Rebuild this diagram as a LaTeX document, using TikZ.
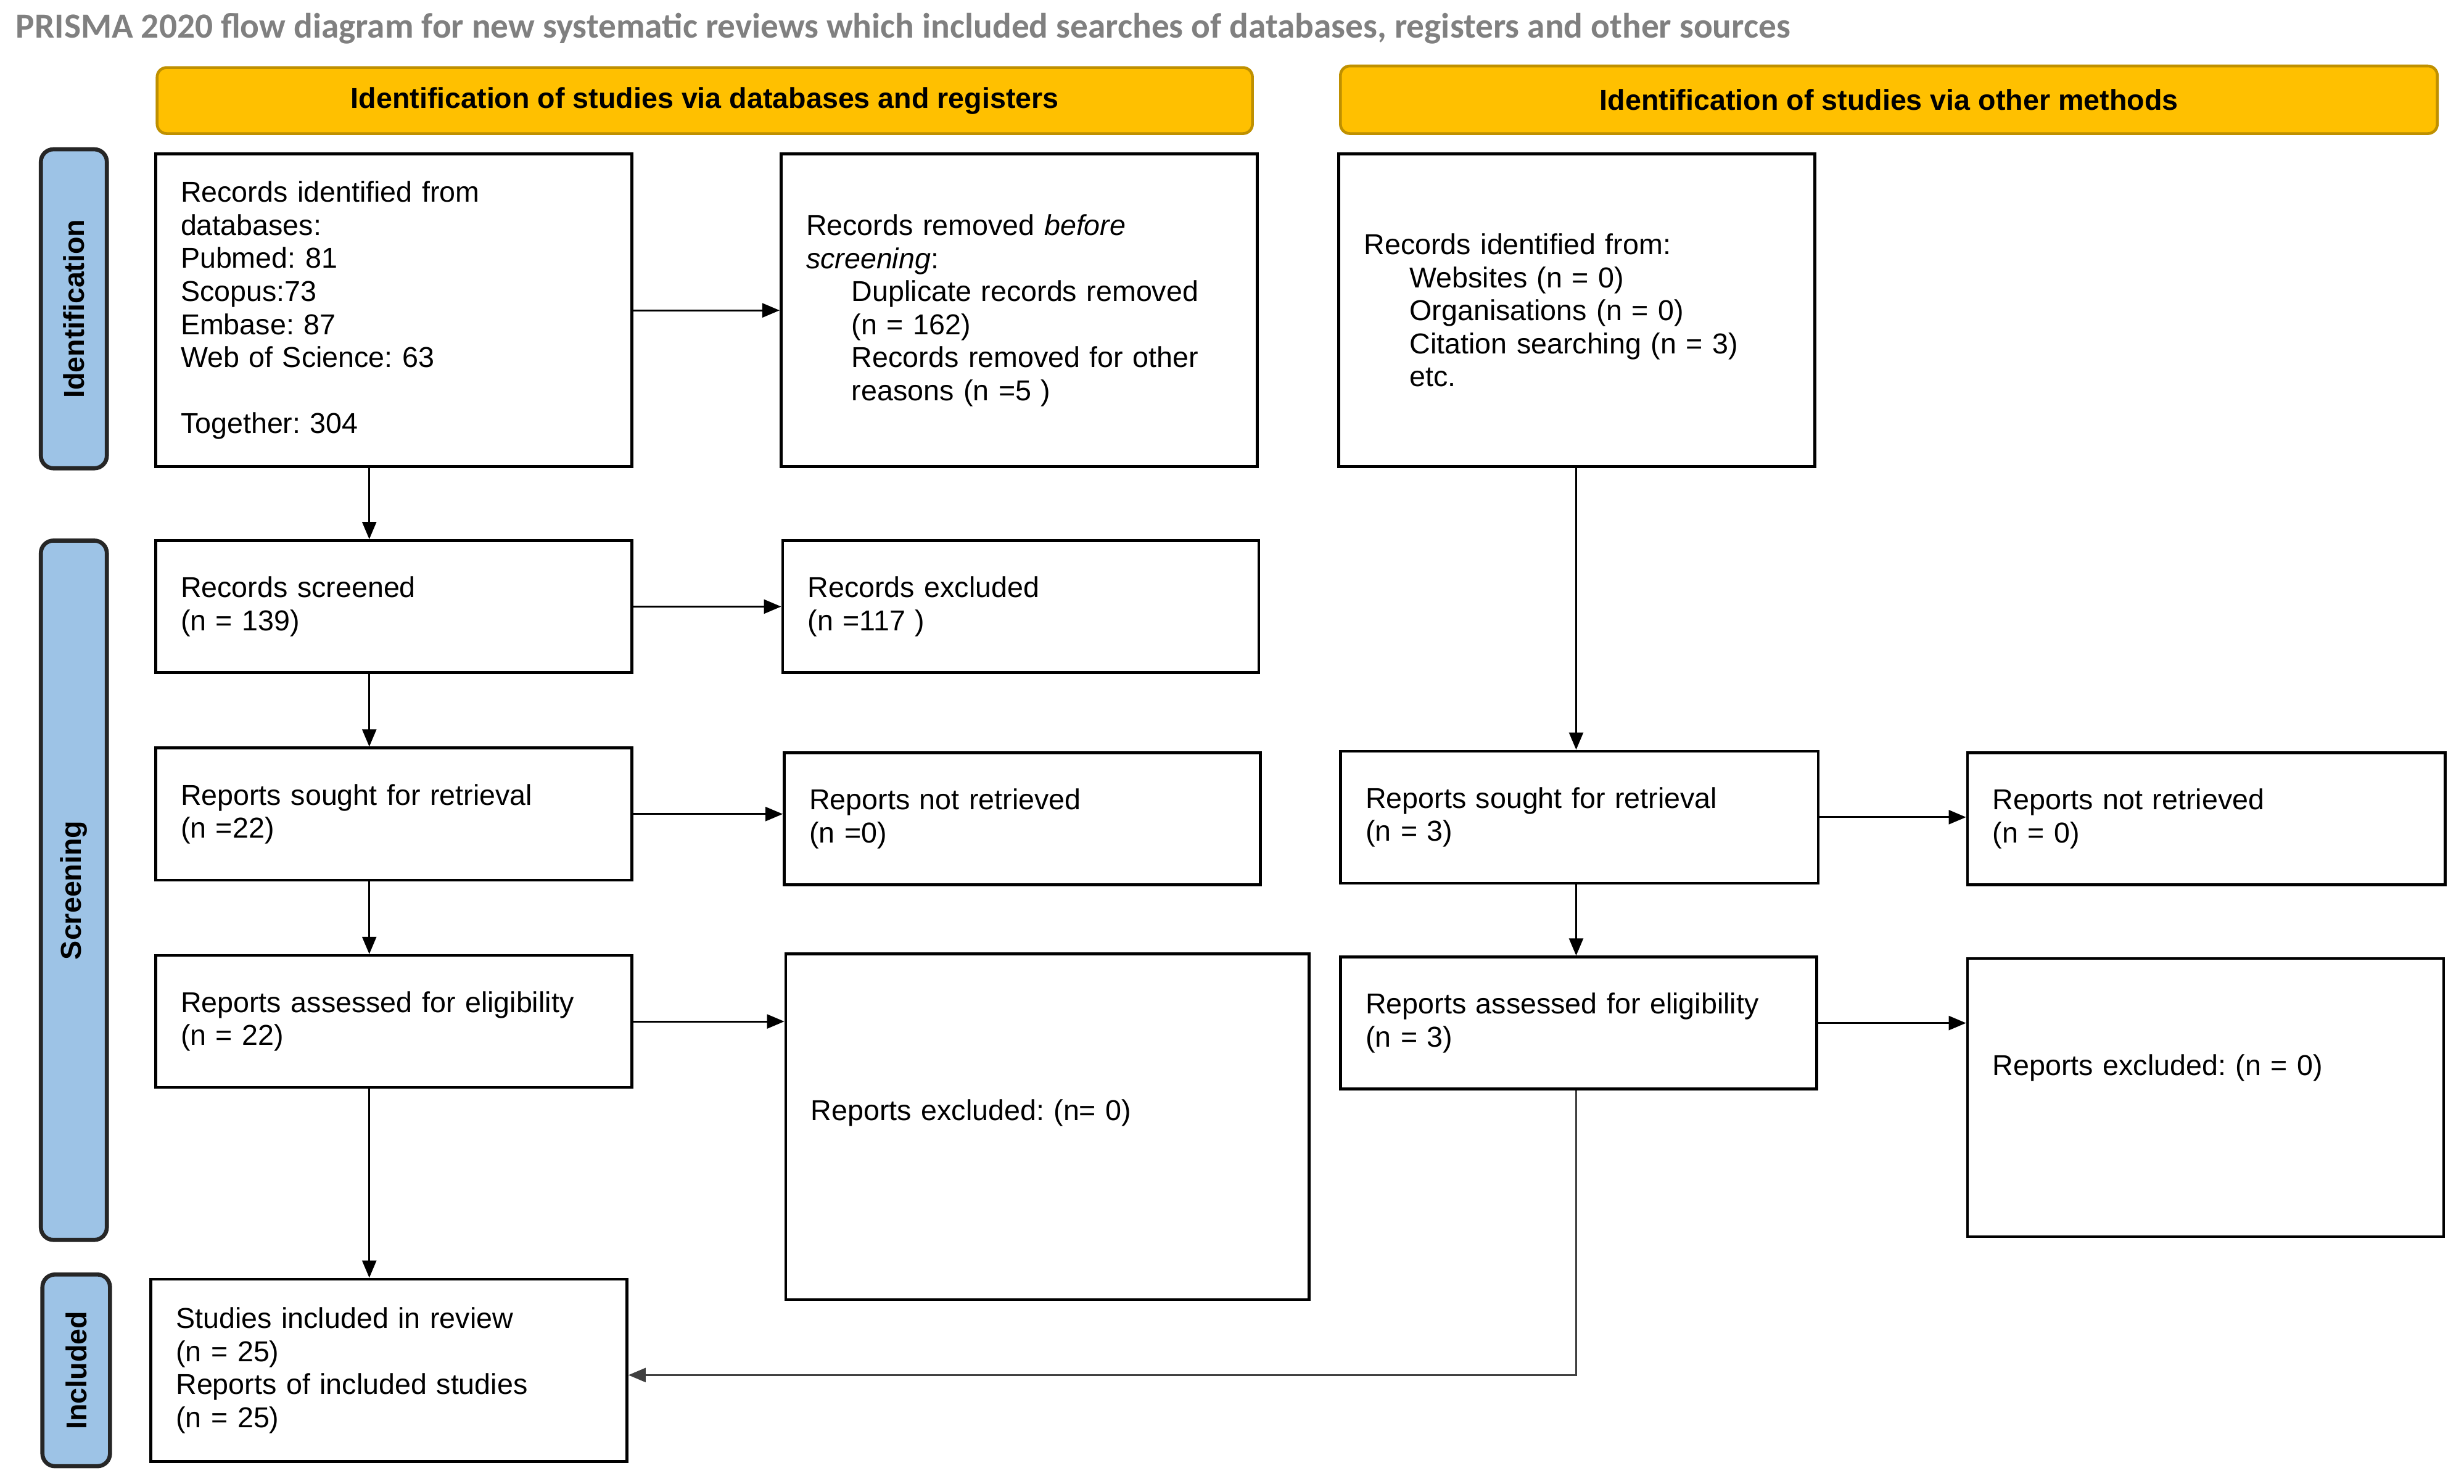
\documentclass[tikz,border=0pt]{standalone}
\usepackage{fontspec}
\setmainfont{Liberation Sans}
\newfontfamily\titlefont{Carlito}
\usetikzlibrary{arrows.meta}
\definecolor{hdrfill}{HTML}{FFC000}
\definecolor{hdrline}{HTML}{BF9000}
\definecolor{sideblue}{HTML}{9DC3E6}
\definecolor{titlegray}{HTML}{808080}
\frenchspacing
\begin{document}
\frenchspacing
\begin{tikzpicture}[x=1pt,y=-1pt,
  txt/.style={font=\fontsize{18.3}{21}\selectfont},
  box/.style={txt, draw, line width=1.8pt, align=left, inner xsep=16pt, inner ysep=0pt},
  hdr/.style={txt, draw=hdrline, fill=hdrfill, line width=1.8pt, rounded corners=6pt, font=\fontsize{18.3}{21}\selectfont\bfseries, inner sep=0pt},
  side/.style={txt, draw=black!85, fill=sideblue, line width=2.6pt, rounded corners=8pt, rotate=90, font=\fontsize{18.3}{21}\selectfont\bfseries, inner sep=0pt},
  arr/.style={-{Triangle[length=11pt,width=9pt]}, line width=1.1pt}]
\useasboundingbox (0,0) rectangle (1568,944);

\node[anchor=base west, inner sep=0pt, text=titlegray, font=\titlefont\bfseries\fontsize{22.5}{26}\selectfont] (title) at (10,24)
  {PRISMA 2020 flow diagram for new systematic reviews which included searches of databases, registers and other sources};

% headers
\node[hdr, minimum width=697pt, minimum height=42pt] (hL) at (448.5,64) {Identification of studies via databases and registers};
\node[hdr, minimum width=698pt, minimum height=43pt] (hR) at (1202,63.5) {Identification of studies via other methods};

% side bars
\node[side, minimum width=203pt, minimum height=42pt] (sId) at (47,196.5) {Identification};
\node[side, minimum width=445pt, minimum height=42pt] (sSc) at (47,566.5) {Screening};
\node[side, minimum width=122pt, minimum height=43pt] (sIn) at (48.5,872) {Included};

% left column boxes
\node[box, text width=271pt, minimum height=199pt] (b1) at (250.5,197.5)
  {Records identified from\\databases:\\Pubmed: 81\\Scopus:73\\Embase: 87\\Web of Science: 63\\\mbox{}\\Together: 304};
\node[box, text width=271pt, minimum height=199pt] (b2) at (648.5,197.5)
  {Records removed \textit{before}\\\textit{screening}:\\\hspace*{29pt}Duplicate records removed\\\hspace*{29pt}(n = 162)\\\hspace*{29pt}Records removed for other\\\hspace*{29pt}reasons (n =5 )};
\node[box, text width=271pt, minimum height=199pt] (b3) at (1003.5,197.5)
  {Records identified from:\\\hspace*{29pt}Websites (n = 0)\\\hspace*{29pt}Organisations (n = 0)\\\hspace*{29pt}Citation searching (n = 3)\\\hspace*{29pt}etc.};

\node[box, text width=271pt, minimum height=84pt] (b4) at (250.5,386) {Records screened\\(n = 139)};
\node[box, text width=271pt, minimum height=84pt] (b5) at (649.5,386) {Records excluded\\(n =117 )};
\node[box, text width=271pt, minimum height=84pt] (b6) at (250.5,518) {Reports sought for retrieval\\(n =22)};
\node[box, text width=271pt, minimum height=84pt] (b7) at (650.5,521) {Reports not retrieved\\(n =0)};
\node[box, text width=271pt, minimum height=84pt] (b8) at (250.5,650) {Reports assessed for eligibility\\(n = 22)};
\node[box, text width=301pt, minimum height=220pt] (b9) at (666.5,717) {Reports excluded: (n= 0)\\\mbox{}};

% right column boxes
\node[box, text width=272pt, minimum height=84pt] (b10) at (1005,520) {Reports sought for retrieval\\(n = 3)};
\node[box, text width=272pt, minimum height=84pt] (b11) at (1404,521) {Reports not retrieved\\(n = 0)};
\node[box, text width=271pt, minimum height=84pt] (b12) at (1004.5,651) {Reports assessed for eligibility\\(n = 3)};
\node[box, text width=271pt, minimum height=177pt] (b13) at (1403.5,698.5) {Reports excluded: (n = 0)\\\mbox{}\\\mbox{}};

% included
\node[box, text width=271pt, minimum height=116pt] (b14) at (247.5,872)
  {Studies included in review\\(n = 25)\\Reports of included studies\\(n = 25)};

% connectors
\coordinate (cL) at (235,0);
\coordinate (cR) at (1003,0);
\draw[arr] (b1.south -| cL) -- (b4.north -| cL);
\draw[arr] (b4.south -| cL) -- (b6.north -| cL);
\draw[arr] (b6.south -| cL) -- (b8.north -| cL);
\draw[arr] (b8.south -| cL) -- (b14.north -| cL);
\draw[arr] (b1.east) -- (b2.west);
\draw[arr] (b4.east) -- (b4.east -| b5.west);
\draw[arr] (b6.east) -- (b6.east -| b7.west);
\draw[arr] (b8.east) -- (b8.east -| b9.west);

\draw[arr] (b3.south -| cR) -- (b10.north -| cR);
\draw[arr] (b10.south -| cR) -- (b12.north -| cR);
\draw[arr] (b10.east) -- (b10.east -| b11.west);
\draw[arr] (b12.east) -- (b12.east -| b13.west);
\coordinate (jn) at (1003,875);
\draw[arr, draw=black!75] (b12.south -| cR) -- (jn) -- (jn -| b14.east);
\end{tikzpicture}
\end{document}
